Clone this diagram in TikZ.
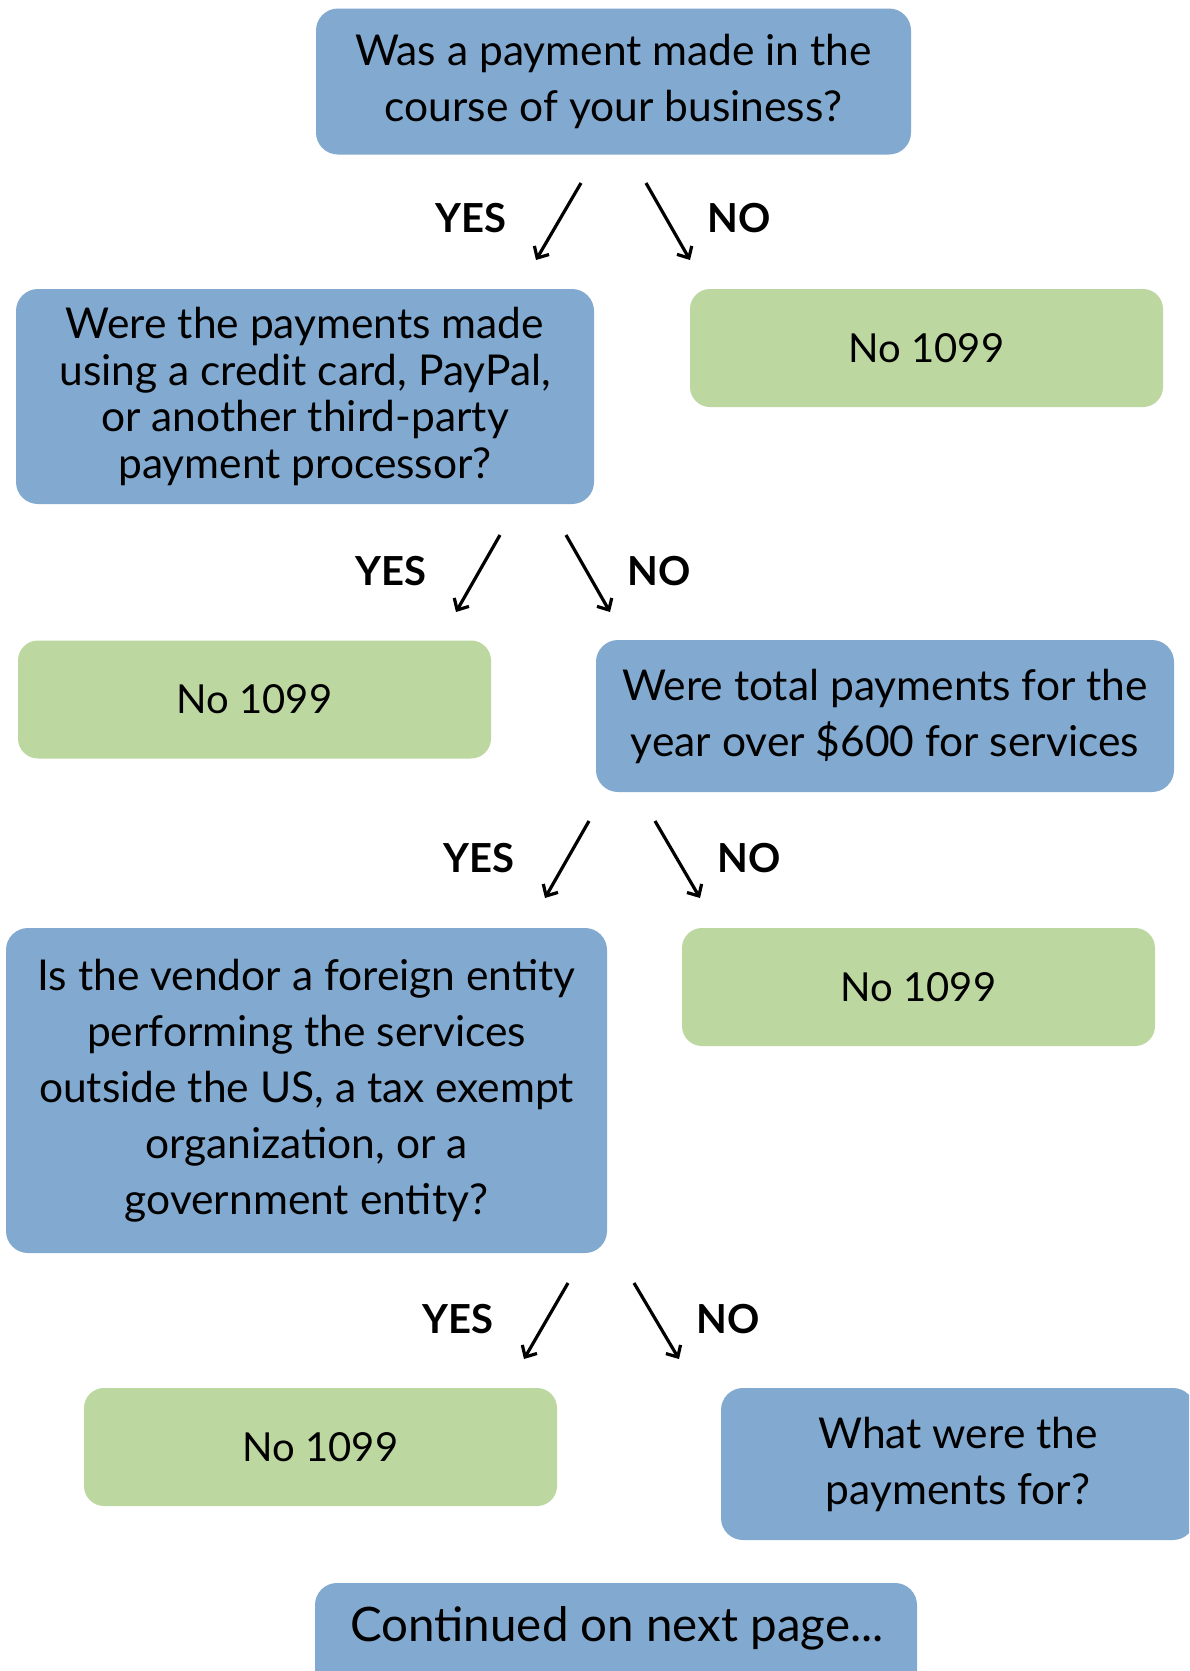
\documentclass[tikz,border=0pt]{standalone}
\usepackage{fontspec}
\setmainfont{Lato}
\usetikzlibrary{arrows.meta}
\definecolor{qblue}{HTML}{82A9CF}
\definecolor{agreen}{HTML}{BDD7A1}
\begin{document}
\begin{tikzpicture}[x=1pt,y=-1pt,
  qbox/.style={fill=qblue, rounded corners=22pt, align=center, inner sep=0pt,
    font=\fontsize{42.5}{56}\selectfont},
  abox/.style={fill=agreen, rounded corners=20pt, align=center, inner sep=0pt,
    minimum width=473, minimum height=118, font=\fontsize{40}{56}\selectfont},
  lbl/.style={font=\fontsize{40}{48}\selectfont\bfseries, inner sep=0pt},
  arr/.style={line width=3.2pt, -{Straight Barb[length=9pt,width=17pt,line width=3.2pt]}}]
\path[use as bounding box] (0,0) rectangle (1189,1671);
\clip (0,0) rectangle (1189,1671);
\fill[white] (0,0) rectangle (1189,1671);

% boxes
\node[qbox, minimum width=595, minimum height=146] (q1) at (613.5,81.5)
  {Was a payment made in the\\course of your business?};
\node[qbox, minimum width=578, minimum height=215, font=\fontsize{42.5}{46.5}\selectfont] (q2) at (305,396.5)
  {Were the payments made\\using a credit card, PayPal,\\or another third-party\\payment processor?};
\node[abox] (n1) at (926.5,348) {No 1099};
\node[abox] (n2) at (254.5,699.5) {No 1099};
\node[qbox, minimum width=578, minimum height=152] (q3) at (885,716)
  {Were total payments for the\\year over \$600 for services};
\node[qbox, minimum width=601, minimum height=325] (q4) at (306.5,1090.5)
  {Is the vendor a foreign entity\\performing the services\\outside the US, a tax exempt\\organization, or a\\government entity?};
\node[abox] (n3) at (918.5,987) {No 1099};
\node[abox] (n4) at (320.5,1447) {No 1099};
\node[qbox, minimum width=474, minimum height=152] (q5) at (958,1464)
  {What were the\\payments for?};
\node[qbox, minimum width=602, minimum height=130] (cont) at (616,1648) {};
\node[font=\fontsize{47.5}{56}\selectfont, inner sep=0pt] (conttext) at (617,1628) {Continued on next page...};

% labels
\node[lbl] (y1) at (471,218) {YES};
\node[lbl] (o1) at (739,218) {NO};
\node[lbl] (y2) at (391,571) {YES};
\node[lbl] (o2) at (659,571) {NO};
\node[lbl] (y3) at (479,858) {YES};
\node[lbl] (o3) at (749,858) {NO};
\node[lbl] (y4) at (458,1319) {YES};
\node[lbl] (o4) at (728,1319) {NO};

% arrows
\coordinate (a1s) at (581,183); \coordinate (a1e) at (536,260);
\coordinate (b1s) at (646,183); \coordinate (b1e) at (690,260);
\coordinate (a2s) at (500,535); \coordinate (a2e) at (456,612);
\coordinate (b2s) at (566,535); \coordinate (b2e) at (610,612);
\coordinate (a3s) at (589,821); \coordinate (a3e) at (545,898);
\coordinate (b3s) at (655,821); \coordinate (b3e) at (700,898);
\coordinate (a4s) at (568,1283); \coordinate (a4e) at (524,1359);
\coordinate (b4s) at (634,1283); \coordinate (b4e) at (679,1359);
\foreach \p in {a1,b1,a2,b2,a3,b3,a4,b4}{\draw[arr] (\p s) -- (\p e);}
\end{tikzpicture}
\end{document}
